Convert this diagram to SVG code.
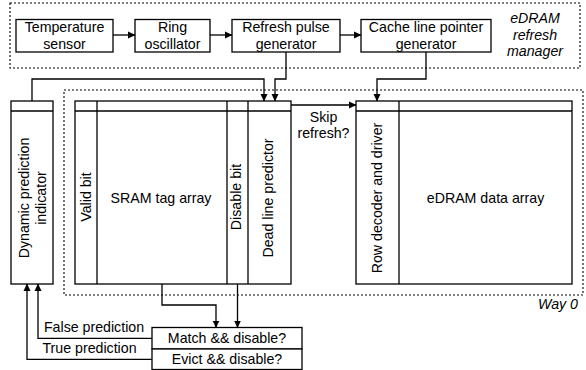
<svg xmlns="http://www.w3.org/2000/svg" width="586" height="370" viewBox="0 0 586 370">
<defs>
<marker id="ah" markerWidth="8" markerHeight="8" refX="7" refY="4" orient="auto" markerUnits="userSpaceOnUse">
<path d="M0,0.5 L7.5,4 L0,7.5 Z" fill="#000"/>
</marker>
<style>
.box{fill:#fff;stroke:#000;stroke-width:1.3}
.ln{fill:none;stroke:#000;stroke-width:1.3}
.dot{fill:none;stroke:#000;stroke-width:1.1;stroke-dasharray:2 2}
.t{font-family:"Liberation Sans",Arial,sans-serif;font-size:14.2px;fill:#000;text-anchor:middle}
.it{font-style:italic}
.c{fill:none;stroke:#000;stroke-width:1.3;marker-end:url(#ah)}
</style>
</defs>
<rect width="586" height="370" fill="#fff"/>
<g id="refresh-manager">
<rect class="dot" x="10" y="3" width="570" height="65"/>
<text class="t it" x="535" y="23">eDRAM</text>
<text class="t it" x="535" y="39.5">refresh</text>
<text class="t it" x="535" y="56">manager</text>
</g>
<g id="way0">
<rect class="dot" x="64" y="90" width="519" height="205"/>
<text class="t it" x="578" y="309" style="text-anchor:end">Way 0</text>
</g>
<g id="temp-sensor">
<rect class="box" x="16" y="19.5" width="97" height="32.5"/>
<text class="t" x="64.5" y="32">Temperature</text>
<text class="t" x="64.5" y="48.5">sensor</text>
</g>
<g id="ring-osc">
<rect class="box" x="135" y="19.5" width="75" height="32.5"/>
<text class="t" x="172.5" y="32">Ring</text>
<text class="t" x="172.5" y="48.5">oscillator</text>
</g>
<g id="refresh-pulse">
<rect class="box" x="232" y="19.5" width="108" height="32.5"/>
<text class="t" x="286" y="32">Refresh pulse</text>
<text class="t" x="286" y="48.5">generator</text>
</g>
<g id="cache-line-ptr">
<rect class="box" x="361" y="19.5" width="130" height="32.5"/>
<text class="t" x="426" y="32">Cache line pointer</text>
<text class="t" x="426" y="48.5">generator</text>
</g>
<g id="dyn-pred">
<rect class="box" x="11" y="101" width="42" height="183"/>
<line class="ln" x1="11" y1="111" x2="53" y2="111"/>
<text class="t" transform="translate(32,198) rotate(-90)"><tspan x="0" y="-3.5">Dynamic prediction</tspan><tspan x="0" y="13.5">indicator</tspan></text>
</g>
<g id="sram">
<rect class="box" x="75" y="101" width="216" height="183"/>
<line class="ln" x1="75" y1="111" x2="291" y2="111"/>
<line class="ln" x1="97" y1="101" x2="97" y2="284"/>
<line class="ln" x1="227" y1="101" x2="227" y2="284"/>
<line class="ln" x1="248" y1="101" x2="248" y2="284"/>
<text class="t" transform="translate(91,197) rotate(-90)" x="0" y="0">Valid bit</text>
<text class="t" x="161" y="203">SRAM tag array</text>
<text class="t" transform="translate(241,197) rotate(-90)" x="0" y="0">Disable bit</text>
<text class="t" transform="translate(273,198) rotate(-90)" x="0" y="0">Dead line predictor</text>
</g>
<g id="edram">
<rect class="box" x="356" y="101" width="216" height="183"/>
<line class="ln" x1="356" y1="111" x2="572" y2="111"/>
<line class="ln" x1="399" y1="101" x2="399" y2="284"/>
<text class="t" transform="translate(382,198) rotate(-90)" x="0" y="0">Row decoder and driver</text>
<text class="t" x="485.5" y="203">eDRAM data array</text>
</g>
<g id="checks">
<rect class="box" x="152" y="327.5" width="150" height="21.5"/>
<rect class="box" x="152" y="349" width="150" height="20.5"/>
<text class="t" x="227" y="343.3">Match &amp;&amp; disable?</text>
<text class="t" x="227" y="364">Evict &amp;&amp; disable?</text>
</g>
<g id="connectors">
<line class="c" x1="113" y1="35" x2="135" y2="35"/>
<line class="c" x1="210" y1="35" x2="232" y2="35"/>
<line class="c" x1="340" y1="35" x2="361" y2="35"/>
<polyline class="c" points="286,52 286,79 275,79 275,101"/>
<polyline class="c" points="32,101 32,79 264,79 264,101"/>
<polyline class="c" points="426,52 426,79 377,79 377,101"/>
<line class="c" x1="291" y1="105" x2="356" y2="105"/>
<polyline class="c" points="162,284 162,305 216,305 216,327.5"/>
<line class="c" x1="237.5" y1="284" x2="237.5" y2="327.5"/>
<polyline class="c" points="152,338.3 38,338.3 38,284"/>
<polyline class="c" points="152,359.3 27,359.3 27,284"/>
<text class="t" x="323.5" y="121.7">Skip</text>
<text class="t" x="323.5" y="137.7">refresh?</text>
<text class="t" x="94" y="331.7">False prediction</text>
<text class="t" x="89.5" y="352.7">True prediction</text>
</g>
</svg>
